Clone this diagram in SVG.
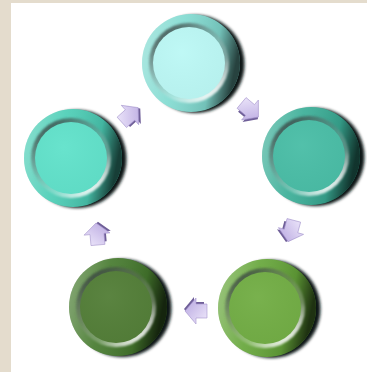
<svg xmlns="http://www.w3.org/2000/svg" xmlns:xlink="http://www.w3.org/1999/xlink" width="367" height="372" viewBox="0 0 367 372">
<style>
.rimshade{fill:url(#rimShade)}
.bevel{fill:url(#bevel)}
.gloss{fill:url(#gloss)}
.side{fill:#101816}
.arrback{fill:#6f5f98}
.arrface{fill:url(#arrGrad);stroke:#a494cc;stroke-width:0.6}
</style>
<defs>
<filter id="soft" x="-20%" y="-20%" width="140%" height="140%"><feGaussianBlur stdDeviation="1.4"/></filter>
<filter id="soft2" x="-20%" y="-20%" width="140%" height="140%"><feGaussianBlur stdDeviation="0.8"/></filter>
<linearGradient id="rimShade" x1="0" y1="0.1" x2="1" y2="0.3">
<stop offset="0" stop-color="#fff" stop-opacity="0.35"/>
<stop offset="0.4" stop-color="#fff" stop-opacity="0.08"/>
<stop offset="0.78" stop-color="#000" stop-opacity="0.12"/>
<stop offset="1" stop-color="#000" stop-opacity="0.7"/>
</linearGradient>
<linearGradient id="bevel" x1="0.15" y1="0.1" x2="0.8" y2="0.95">
<stop offset="0" stop-color="#2e3a38" stop-opacity="0.8"/>
<stop offset="0.4" stop-color="#707070" stop-opacity="0.3"/>
<stop offset="0.7" stop-color="#fff" stop-opacity="0.25"/>
<stop offset="1" stop-color="#fff" stop-opacity="1"/>
</linearGradient>
<radialGradient id="gloss" cx="0.4" cy="0.35" r="0.7">
<stop offset="0" stop-color="#fff" stop-opacity="0.04"/>
<stop offset="1" stop-color="#000" stop-opacity="0.03"/>
</radialGradient>
<linearGradient id="arrGrad" x1="0" y1="0" x2="1" y2="1">
<stop offset="0" stop-color="#f0eafc"/>
<stop offset="1" stop-color="#b6a5df"/>
</linearGradient>
<g id="arrow">
<polygon class="arrback" points="-8,-5 2,-5 2,-10 12,2 2,14 2,9 -8,9"/>
<polygon class="arrface" points="-11,-7 0,-7 0,-13 11,0 0,13 0,7 -11,7"/>
</g>
</defs>
<rect width="367" height="372" fill="#e4dccd"/>
<rect x="11" y="3" width="356" height="369" fill="#ffffff"/>

<g id="node1" transform="translate(192,63)">
<circle class="side" cx="3.5" cy="1" r="49" filter="url(#soft)"/>
<circle cx="-1" cy="0" r="49" fill="#82dbd1"/>
<circle class="rimshade" cx="-1" cy="0" r="49"/>
<circle class="bevel" cx="-3" cy="0" r="40" filter="url(#soft2)"/>
<circle cx="-3" cy="0" r="36" fill="#bcf8f5"/>
<circle class="gloss" cx="-3" cy="0" r="36"/>
</g>

<g id="node2" transform="translate(312,156)">
<circle class="side" cx="3.5" cy="1" r="49" filter="url(#soft)"/>
<circle cx="-1" cy="0" r="49" fill="#3aae97"/>
<circle class="rimshade" cx="-1" cy="0" r="49"/>
<circle class="bevel" cx="-3" cy="0" r="40" filter="url(#soft2)"/>
<circle cx="-3" cy="0" r="36" fill="#4bbea7"/>
<circle class="gloss" cx="-3" cy="0" r="36"/>
</g>

<g id="node3" transform="translate(268,308)">
<circle class="side" cx="3.5" cy="1" r="49" filter="url(#soft)"/>
<circle cx="-1" cy="0" r="49" fill="#66a63a"/>
<circle class="rimshade" cx="-1" cy="0" r="49"/>
<circle class="bevel" cx="-3" cy="0" r="40" filter="url(#soft2)"/>
<circle cx="-3" cy="0" r="36" fill="#73ae46"/>
<circle class="gloss" cx="-3" cy="0" r="36"/>
</g>

<g id="node4" transform="translate(119,307)">
<circle class="side" cx="3.5" cy="1" r="49" filter="url(#soft)"/>
<circle cx="-1" cy="0" r="49" fill="#467a2e"/>
<circle class="rimshade" cx="-1" cy="0" r="49"/>
<circle class="bevel" cx="-3" cy="0" r="40" filter="url(#soft2)"/>
<circle cx="-3" cy="0" r="36" fill="#547f39"/>
<circle class="gloss" cx="-3" cy="0" r="36"/>
</g>

<g id="node5" transform="translate(74,158)">
<circle class="side" cx="3.5" cy="1" r="49" filter="url(#soft)"/>
<circle cx="-1" cy="0" r="49" fill="#4cceb6"/>
<circle class="rimshade" cx="-1" cy="0" r="49"/>
<circle class="bevel" cx="-3" cy="0" r="40" filter="url(#soft2)"/>
<circle cx="-3" cy="0" r="36" fill="#62e2cb"/>
<circle class="gloss" cx="-3" cy="0" r="36"/>
</g>

<g id="connectors">
<use xlink:href="#arrow" transform="translate(250,110) rotate(40)"/>
<use xlink:href="#arrow" transform="translate(291,231) rotate(105)"/>
<use xlink:href="#arrow" transform="translate(196,311) rotate(180)"/>
<use xlink:href="#arrow" transform="translate(97,234) rotate(-95)"/>
<use xlink:href="#arrow" transform="translate(130,115) rotate(-42)"/>
</g>
</svg>
